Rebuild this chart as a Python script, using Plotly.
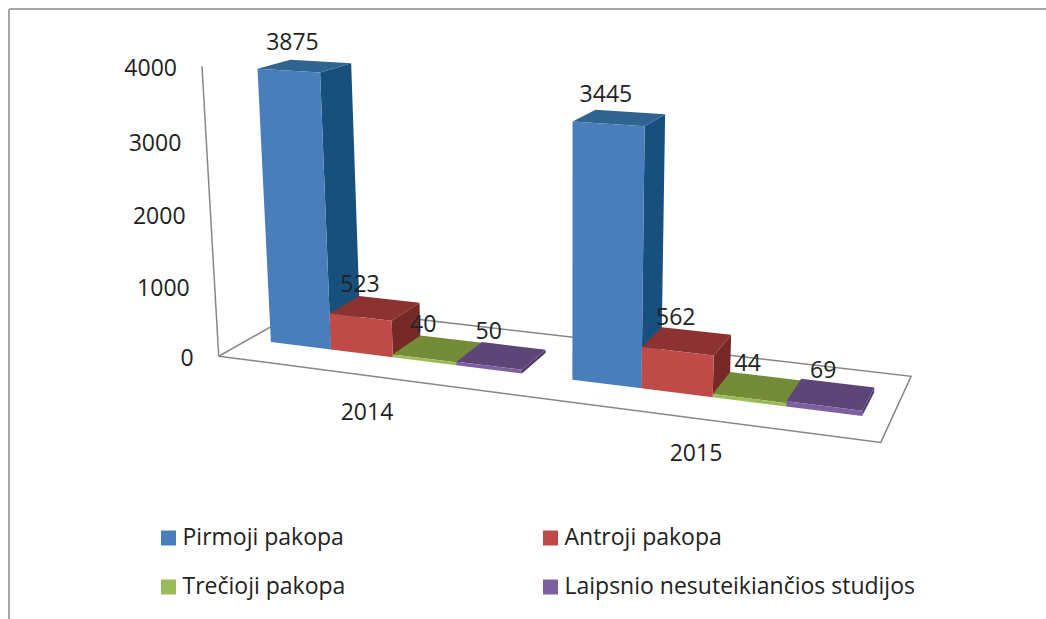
import numpy as np
import plotly.graph_objects as go

# ---- data ----
years = ["2014", "2015"]
series_names = ["Pirmoji pakopa", "Antroji pakopa", "Trečioji pakopa", "Laipsnio nesuteikiančios studijos"]
values_2014 = [3875, 523, 40, 50]
values_2015 = [3445, 562, 44, 69]
value_ticks = [0, 1000, 2000, 3000, 4000]

# ---- style ----
FONT = "Open Sans"
FONT_SIZE = 23
TEXT = "#222222"
FRONT = ["#4A7EBB", "#BE4B48", "#9BBB59", "#7D60A0"]
TOP = ["#2F6390", "#8C3231", "#748B37", "#5E4577"]
SIDE = ["#17507C", "#772928", "#5F7530", "#4F3A6B"]
AXIS = "#868686"
LABEL_DX = [[-12.4, -15, -14.6, -12.7], [-13.5, -11.3, -9.7, -7.7]]

# ---- oblique 3D chart geometry: category units along the floor, depth 0..1, value height ----
GAP = 0.75
CAT_W = 4 + GAP
V0, V1 = 0.32, 0.68
FLOOR_U = 2 * CAT_W
CAMERA_FIT = [
    (0, 0, 0, 220, 355.7), (0, 0, 4000, 202.7, 65), (9.5, 0, 0, 881.7, 441.7), (9.5, 1, 0, 910.7, 376.7),
    (0, 1, 0, 306.2, 306.8), (0.375, V0, 0, 270, 342.7), (0.375, V0, 3875, 256, 69.5),
    (1.375, V0, 3875, 319, 72.7), (1.375, V1, 3875, 352, 63.3), (0.375, V1, 3875, 291.7, 59.3),
    (5.125, V0, 0, 571.7, 380.7), (5.125, V0, 3445, 571.7, 122.3), (6.125, V0, 3445, 644, 126.7),
    (6.125, V1, 3445, 666, 114), (5.125, V1, 3445, 595.7, 109.3), (9.125, V0, 0, 861.7, 416.7),
    (9.125, V1, 0, 874.3, 391.7), (4.375, V0, 0, 521.7, 374), (4.375, V1, 0, 546.7, 351),
]


def fit_camera(rows):
    A = []
    for u, v, w, px, py in rows:
        X = [u, v, w / 4000, 1]
        x, y = px / 1000, py / 1000
        A.append(X + [0, 0, 0, 0] + [-x * c for c in X])
        A.append([0, 0, 0, 0] + X + [-y * c for c in X])
    return np.linalg.svd(np.array(A))[2][-1].reshape(3, 4)


CAM = fit_camera(CAMERA_FIT)


def proj(u, v, value):
    h = CAM @ np.array([u, v, value / 4000, 1.0])
    return float(h[0] / h[2] * 1000), float(h[1] / h[2] * 1000)


def poly(points, color, name):
    return go.Scatter(
        x=[p[0] for p in points] + [points[0][0]],
        y=[p[1] for p in points] + [points[0][1]],
        mode="lines", fill="toself", fillcolor=color,
        line=dict(width=0, color=color), name=name,
        showlegend=False, hoverinfo="skip",
    )


fig = go.Figure()

# floor outline and value axis
floor = [proj(0, 0, 0), proj(FLOOR_U, 0, 0), proj(FLOOR_U, 1, 0), proj(0, 1, 0), proj(0, 0, 0)]
fig.add_trace(go.Scatter(x=[p[0] for p in floor], y=[p[1] for p in floor], mode="lines",
                         line=dict(color=AXIS, width=1.5), showlegend=False, hoverinfo="skip"))
wall = [proj(0, 0, 0), proj(0, 0, 4000)]
fig.add_trace(go.Scatter(x=[p[0] for p in wall], y=[p[1] for p in wall], mode="lines",
                         line=dict(color=AXIS, width=1.5), showlegend=False, hoverinfo="skip"))

# bars, painted left to right
label_x, label_y, label_t = [], [], []
for c, vals in enumerate([values_2014, values_2015]):
    for s, val in enumerate(vals):
        u0 = c * CAT_W + GAP / 2 + s
        u1 = u0 + 1
        name = series_names[s]
        fig.add_trace(poly([proj(u1, V0, 0), proj(u1, V1, 0), proj(u1, V1, val), proj(u1, V0, val)], SIDE[s], name))
        fig.add_trace(poly([proj(u0, V0, val), proj(u1, V0, val), proj(u1, V1, val), proj(u0, V1, val)], TOP[s], name))
        fig.add_trace(poly([proj(u0, V0, 0), proj(u1, V0, 0), proj(u1, V0, val), proj(u0, V0, val)], FRONT[s], name))
        cx, cy = proj((u0 + u1) / 2, (V0 + V1) / 2, val)
        label_x.append(cx + LABEL_DX[c][s])
        label_y.append(cy - 22)
        label_t.append(str(val))

fig.add_trace(go.Scatter(x=label_x, y=label_y, text=label_t, mode="text", textposition="middle center",
                         textfont=dict(family=FONT, size=FONT_SIZE, color=TEXT), showlegend=False, hoverinfo="skip"))

# value tick labels follow the axis
tick_pts = [proj(0, 0, t) for t in value_ticks]
fig.add_trace(go.Scatter(x=[p[0] - 25 for p in tick_pts], y=[p[1] + 4 for p in tick_pts],
                         text=[str(t) for t in value_ticks], mode="text", textposition="middle left",
                         textfont=dict(family=FONT, size=FONT_SIZE, color=TEXT), showlegend=False, hoverinfo="skip"))

# category labels
fig.add_trace(go.Scatter(x=[367, 696], y=[414, 455], text=years, mode="text", textposition="middle center",
                         textfont=dict(family=FONT, size=FONT_SIZE, color=TEXT), showlegend=False, hoverinfo="skip"))

# legend
leg_x = [168.5, 550.5, 168.5, 550.5]
leg_y = [538, 538, 587, 587]
for i, name in enumerate(series_names):
    fig.add_trace(go.Scatter(x=[leg_x[i]], y=[leg_y[i]], mode="markers", name=name,
                             marker=dict(symbol="square", size=15, color=FRONT[i], line=dict(width=0)),
                             showlegend=False, hoverinfo="skip"))
    fig.add_trace(go.Scatter(x=[leg_x[i] + 14], y=[leg_y[i] + 1], mode="text", text=[name], textposition="middle right",
                             textfont=dict(family=FONT, size=FONT_SIZE, color=TEXT), showlegend=False, hoverinfo="skip"))

fig.update_layout(
    width=1046, height=619, margin=dict(l=0, r=0, t=0, b=0),
    paper_bgcolor="white", plot_bgcolor="white", showlegend=False,
    xaxis=dict(range=[0, 1046], visible=False, fixedrange=True),
    yaxis=dict(range=[619, 0], visible=False, fixedrange=True),
    shapes=[
        dict(type="line", x0=9, y0=9, x1=1046, y1=9, line=dict(color="#A6A6A6", width=2)),
        dict(type="line", x0=9, y0=9, x1=9, y1=619, line=dict(color="#A6A6A6", width=2)),
    ],
)

fig.write_html("out.html", config={"displayModeBar": False},
               post_script="document.body.style.margin='0';document.body.style.overflow='hidden';")
